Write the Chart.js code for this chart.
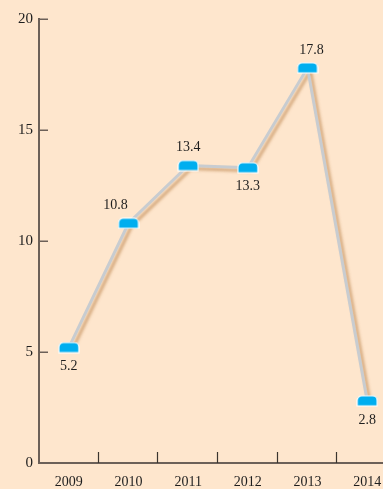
<!DOCTYPE html>
<html><head><meta charset="utf-8">
<script src="https://cdn.jsdelivr.net/npm/chart.js@4/dist/chart.umd.min.js"></script>
<style>
html,body{margin:0;padding:0;background:#fee6cd;overflow:hidden}
#wrap{position:relative;width:383px;height:489px}
canvas{display:block}
</style></head><body>
<div id="wrap"><canvas id="c"></canvas></div>
<script>
// Annual growth figures, %
const years = ['2009', '2010', '2011', '2012', '2013', '2014'];
const values = [5.2, 10.8, 13.4, 13.3, 17.8, 2.8];
const yTickValues = [0, 5, 10, 15, 20];
const labelSide = ['below', 'above', 'above', 'below', 'above', 'below'];

const AXIS = '#6c6058';
const TEXT = '#1e1e1e';
const SERIF = '"Liberation Serif", "DejaVu Serif", serif';

// Blue tab marker with rounded top corners and a thin white edge
function makeMarker() {
  const W = 20, H = 10, r = 4.5, pad = 1;
  const c = document.createElement('canvas');
  c.width = W + pad * 2; c.height = H + pad * 2;
  const g = c.getContext('2d');
  const x = pad, y = pad;
  g.beginPath();
  g.moveTo(x, y + H);
  g.lineTo(x, y + r);
  g.arcTo(x, y, x + r, y, r);
  g.lineTo(x + W - r, y);
  g.arcTo(x + W, y, x + W, y + r, r);
  g.lineTo(x + W, y + H);
  g.closePath();
  g.fillStyle = '#00aeef';
  g.fill();
  g.strokeStyle = '#ffffff';
  g.lineWidth = 1.2;
  g.stroke();
  return c;
}

// The year axis runs a little past the right edge of the canvas
const extendX = {
  id: 'extendX',
  afterLayout(chart) {
    const x = chart.scales.x;
    x.right = chart.width + 14;
    x.width = x.right - x.left;
    chart.chartArea.right = x.right;
    chart.chartArea.width = x.right - chart.chartArea.left;
    x.configure();
  }
};

// Soft tan shadow under the trend line (dataset 1)
const lineShadow = {
  id: 'lineShadow',
  beforeDatasetDraw(chart, args) {
    if (args.index !== 1) return;
    const ctx = chart.ctx;
    ctx.save();
    ctx.shadowColor = 'rgba(200, 150, 100, 0.8)';
    ctx.shadowOffsetX = 3;
    ctx.shadowOffsetY = 3;
    ctx.shadowBlur = 3;
  },
  afterDatasetDraw(chart, args) {
    if (args.index !== 1) return;
    chart.ctx.restore();
  }
};

// Inward tick marks: short stubs off the y axis, separators on the x axis
const innerTicks = {
  id: 'innerTicks',
  beforeDatasetsDraw(chart) {
    const { ctx, chartArea, scales } = chart;
    ctx.save();
    ctx.strokeStyle = AXIS;
    ctx.lineWidth = 1.5;
    yTickValues.forEach(v => {
      const y = Math.round(scales.y.getPixelForValue(v)) + 0.25;
      ctx.beginPath();
      ctx.moveTo(chartArea.left, y);
      ctx.lineTo(chartArea.left + 9, y);
      ctx.stroke();
    });
    ctx.strokeStyle = '#3a342f';
    ctx.lineWidth = 1.2;
    for (let i = 0; i < years.length - 1; i++) {
      const x = Math.round((scales.x.getPixelForValue(i) + scales.x.getPixelForValue(i + 1)) / 2) - 0.5;
      ctx.beginPath();
      ctx.moveTo(x, chartArea.bottom);
      ctx.lineTo(x, chartArea.bottom - 11);
      ctx.stroke();
    }
    ctx.restore();
  }
};

// Value captions above or below each marker
const valueLabels = {
  id: 'valueLabels',
  afterDatasetsDraw(chart) {
    const { ctx } = chart;
    const meta = chart.getDatasetMeta(0);
    ctx.save();
    ctx.font = '14px ' + SERIF;
    ctx.fillStyle = TEXT;
    ctx.textAlign = 'center';
    ctx.textBaseline = 'middle';
    meta.data.forEach((pt, i) => {
      const dy = labelSide[i] === 'above' ? -18 : 19;
      const dx = i === 1 ? -13 : (i === 4 ? 4 : 0);
      ctx.fillText(values[i].toFixed(1), pt.x + dx, pt.y + dy);
    });
    ctx.restore();
  }
};

new Chart(document.getElementById('c'), {
  type: 'line',
  data: {
    labels: years,
    datasets: [
      {
        data: values,
        showLine: false,
        pointStyle: makeMarker(),
        pointRadius: 10,
        pointHoverRadius: 10,
        clip: false
      },
      {
        data: values,
        borderColor: '#c8ccd0',
        borderWidth: 3,
        pointRadius: 0,
        pointHoverRadius: 0,
        fill: false,
        tension: 0,
        clip: false
      }
    ]
  },
  options: {
    responsive: true,
    maintainAspectRatio: false,
    animation: false,
    events: [],
    layout: { padding: { top: 19, left: 0, right: 0, bottom: 0 } },
    plugins: { legend: { display: false }, tooltip: { enabled: false } },
    scales: {
      x: {
        type: 'category',
        offset: true,
        grid: { display: false, drawTicks: false },
        border: { display: true, color: AXIS, width: 2 },
        ticks: { color: TEXT, font: { family: SERIF, size: 14 }, padding: 11, maxRotation: 0, autoSkip: false },
        afterFit(scale) { scale.height = 26; }
      },
      y: {
        min: 0,
        max: 20,
        afterBuildTicks(scale) { scale.ticks = yTickValues.map(v => ({ value: v })); },
        grid: { display: false, drawTicks: false },
        border: { display: true, color: AXIS, width: 2 },
        ticks: { color: TEXT, font: { family: SERIF, size: 15 }, padding: 6 },
        afterFit(scale) { scale.width = 39; }
      }
    }
  },
  plugins: [extendX, lineShadow, innerTicks, valueLabels]
});
</script>
</body></html>
